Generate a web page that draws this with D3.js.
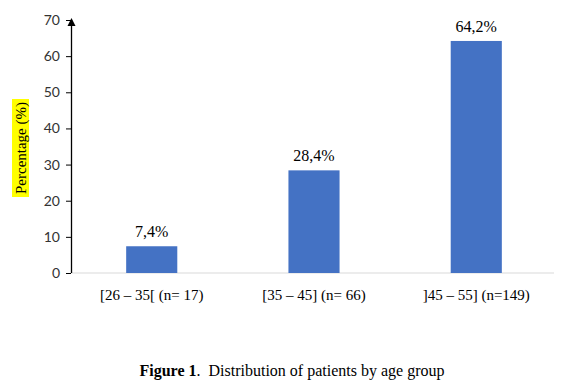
<!DOCTYPE html>
<html><head><meta charset="utf-8">
<script src="https://cdn.jsdelivr.net/npm/d3@7"></script>
<style>body{margin:0;background:#fff}</style>
</head><body>
<svg id="c" width="576" height="390"></svg>
<script>
const categories = ["[26 – 35[ (n= 17)", "[35 – 45] (n= 66)", "]45 – 55] (n=149)"];
const values = [7.4, 28.4, 64.2];
const labels = ["7,4%", "28,4%", "64,2%"];
const yTicks = [0, 10, 20, 30, 40, 50, 60, 70];

(function () {
const svg = d3.select("#c");
const mLeft = 71, mRight = 557, mTop = 20, mBottom = 273;
const x = d3.scaleBand().domain(categories).range([mLeft, mRight]).paddingInner(0.685).paddingOuter(0.34);
const y = d3.scaleLinear().domain([0, 70]).range([mBottom, mTop]);

// baseline gridline
svg.append("line").attr("x1", mLeft).attr("x2", 554).attr("y1", y(0)).attr("y2", y(0))
  .attr("stroke", "#d9d9d9").attr("stroke-width", 1);

// bars
svg.selectAll("rect.bar").data(values).join("rect").attr("class", "bar")
  .attr("x", (d, i) => x(categories[i])).attr("width", x.bandwidth())
  .attr("y", d => y(d)).attr("height", d => y(0) - y(d)).attr("fill", "#4472C4");

// data labels
svg.selectAll("text.dl").data(values).join("text").attr("class", "dl")
  .attr("x", (d, i) => x(categories[i]) + x.bandwidth() / 2)
  .attr("y", d => y(d) - 9).attr("text-anchor", "middle")
  .attr("font-family", "Liberation Serif, Times New Roman, serif").attr("font-size", 16).attr("fill", "#000")
  .text((d, i) => labels[i]);

// y axis
const yAxis = d3.axisLeft(y).tickValues(yTicks).tickSize(5).tickPadding(6);
const ga = svg.append("g").attr("transform", `translate(${mLeft},0)`).call(yAxis);
ga.select(".domain").remove();
ga.selectAll(".tick line").attr("stroke", "#000");
ga.selectAll(".tick text").attr("font-family", "Lato, Open Sans, sans-serif").attr("font-size", 14).attr("fill", "#333");
svg.append("line").attr("x1", mLeft + 0.5).attr("x2", mLeft + 0.5).attr("y1", y(0)).attr("y2", y(70))
  .attr("stroke", "#000").attr("stroke-width", 1.3);
svg.append("path").attr("d", `M${mLeft + 0.5},${y(70) - 2} L${mLeft - 3.5},${y(70) + 6} L${mLeft + 4.5},${y(70) + 6} Z`).attr("fill", "#000");

// x axis labels
const xAxis = d3.axisBottom(x).tickSize(0).tickPadding(16);
const gx = svg.append("g").attr("transform", `translate(0,${y(0)})`).call(xAxis);
gx.select(".domain").remove();
gx.selectAll(".tick text").attr("font-family", "Liberation Serif, Times New Roman, serif").attr("font-size", 15).attr("fill", "#000");

// y title with highlight
const tg = svg.append("g").attr("transform", "translate(20.5,148) rotate(-90)");
tg.append("rect").attr("x", -49).attr("y", -8.5).attr("width", 98).attr("height", 17).attr("fill", "#ffff00");
tg.append("text").attr("text-anchor", "middle").attr("dy", "0.35em")
  .attr("font-family", "Liberation Serif, Times New Roman, serif").attr("font-size", 15).attr("fill", "#000")
  .text("Percentage (%)");

// caption
const cap = svg.append("text").attr("x", 292).attr("y", 376).attr("text-anchor", "middle")
  .attr("font-family", "Liberation Serif, Times New Roman, serif").attr("font-size", 16).attr("fill", "#000");
cap.append("tspan").attr("font-weight", "bold").text("Figure 1");
cap.append("tspan").text(".\u00A0 Distribution of patients by age group");
})();
</script>
</body></html>
